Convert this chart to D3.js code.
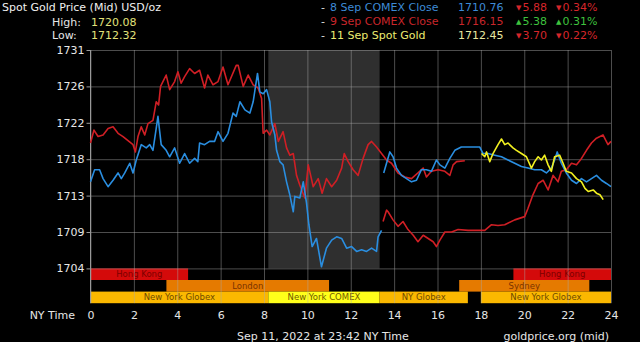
<!DOCTYPE html>
<html>
<head>
<meta charset="utf-8">
<script src="https://cdn.jsdelivr.net/npm/d3@7"></script>
<style>
  html, body { margin: 0; padding: 0; background: #000; }
  svg { display: block; font-family: "DejaVu Sans", Verdana, sans-serif; }
</style>
</head>
<body>
<div id="chart"></div>
<script>
// tick labels
const xTicks = [0, 2, 4, 6, 8, 10, 12, 14, 16, 18, 20, 22, 24]
const yTicks = [1704, 1708.5, 1713, 1717.5, 1722, 1726.5, 1731]
const yLabels = ['1704', '1709', '1713', '1718', '1722', '1726', '1731']

// 8 Sep COMEX close (blue), [hour, price]
const sep8a = [[0,1714.7],[0.19,1716.2],[0.42,1716.2],[0.58,1715.1],[0.81,1714.1],[1.04,1714.9],[1.27,1715.8],[1.42,1715.1],[1.58,1715.8],[1.81,1717.0],[1.96,1715.8],[2.11,1717.4],[2.34,1719.3],[2.57,1718.9],[2.73,1719.3],[2.88,1718.6],[3.03,1721.3],[3.11,1722.8],[3.26,1719.3],[3.49,1718.6],[3.65,1717.8],[3.88,1718.9],[4.11,1717.0],[4.34,1718.2],[4.57,1717.0],[4.8,1717.6],[4.95,1717.2],[5.03,1719.5],[5.26,1719.3],[5.49,1719.7],[5.72,1719.7],[5.88,1720.9],[6.11,1719.7],[6.34,1720.7],[6.57,1723.2],[6.72,1722.8],[6.89,1724.6],[7.12,1723.6],[7.35,1723.2],[7.5,1724.6],[7.7,1728.1],[7.81,1725.8],[7.96,1725.6],[8.12,1726.1],[8.27,1724.6],[8.35,1722.1],[8.5,1720.5],[8.58,1718.6],[8.73,1717.2],[8.88,1716.8],[9.04,1714.7],[9.19,1713.1],[9.35,1711.0],[9.42,1712.9],[9.65,1712.7],[9.81,1714.7],[9.96,1712.1],[10.07,1709.4],[10.22,1706.7],[10.42,1707.7],[10.65,1704.2],[10.88,1706.5],[11.12,1707.5],[11.35,1707.9],[11.58,1707.7],[11.81,1706.5],[12.04,1706.7],[12.27,1706.1],[12.5,1706.3],[12.73,1706.1],[12.96,1706.5],[13.19,1706.1],[13.26,1707.9],[13.42,1708.7]]
const sep8b = [[13.52,1715.8],[13.8,1718.4],[13.95,1717.8],[14.11,1716.4],[14.34,1715.5],[14.57,1715.1],[14.8,1714.7],[15.03,1714.9],[15.26,1716.2],[15.49,1716.2],[15.72,1716.0],[15.95,1717.4],[16.11,1716.8],[16.34,1716.4],[16.57,1717.6],[16.8,1718.6],[17.1,1719.0],[17.57,1719.0],[17.95,1719.0],[18.1,1718.2],[18.33,1718.2],[18.64,1718.0],[18.95,1717.8],[19.25,1717.4],[19.56,1717.0],[19.87,1716.6],[20.17,1716.4],[20.48,1716.2],[20.79,1716.2],[21.02,1715.8],[21.25,1716.4],[21.4,1717.4],[21.52,1718.4],[21.71,1717.0],[21.94,1715.8],[22.18,1714.9],[22.41,1714.5],[22.64,1715.1],[22.87,1714.7],[23.1,1715.1],[23.33,1715.5],[23.56,1714.9],[23.79,1714.5],[24,1714.1]]

// 9 Sep COMEX close (red)
const sep9a = [[0,1719.5],[0.16,1721.1],[0.35,1720.3],[0.58,1720.5],[0.81,1721.3],[1.04,1721.5],[1.27,1720.7],[1.5,1720.3],[1.73,1719.8],[1.96,1719.3],[2.07,1718.4],[2.19,1720.3],[2.34,1721.5],[2.5,1720.5],[2.65,1721.9],[2.88,1722.3],[3.03,1724.6],[3.14,1724.2],[3.23,1726.5],[3.49,1727.9],[3.65,1726.1],[3.88,1727.1],[4.03,1728.3],[4.18,1726.9],[4.34,1727.7],[4.57,1728.7],[4.8,1728.1],[5.03,1728.5],[5.26,1726.3],[5.41,1727.9],[5.65,1726.7],[5.88,1727.1],[6.11,1728.9],[6.34,1726.7],[6.72,1729.1],[6.81,1729.1],[7.04,1726.5],[7.27,1727.9],[7.5,1726.7],[7.73,1726.3],[7.89,1725.0],[7.96,1720.7],[8.12,1721.1],[8.27,1720.5],[8.5,1721.9],[8.66,1719.7],[8.88,1720.9],[9.04,1718.9],[9.19,1718.0],[9.35,1718.2],[9.5,1715.5],[9.65,1714.3],[9.88,1712.7],[10.04,1716.8],[10.27,1714.1],[10.5,1715.1],[10.68,1713.3],[10.88,1715.1],[11.12,1714.1],[11.35,1714.9],[11.58,1716.4],[11.7,1718.2],[11.88,1717.2],[12.11,1716.2],[12.34,1715.5],[12.57,1717.6],[12.8,1719.3],[12.96,1719.7],[13.19,1719.0],[13.42,1718.2],[13.65,1717.4],[13.88,1717.0],[14.18,1715.8],[14.49,1715.3],[14.8,1715.1],[15.1,1715.8],[15.34,1716.4],[15.49,1715.3],[15.72,1716.0],[16.03,1716.2],[16.34,1716.0],[16.57,1715.5],[16.72,1716.8],[16.88,1717.2],[17.26,1717.3]]
const sep9b = [[13.49,1709.8],[13.65,1711.2],[13.72,1711.0],[13.95,1710.0],[14.18,1709.2],[14.41,1709.8],[14.64,1708.8],[14.88,1708.1],[15.1,1707.3],[15.34,1708.1],[15.57,1707.7],[15.8,1707.3],[15.95,1706.7],[16.11,1707.5],[16.34,1708.5],[16.65,1708.5],[16.95,1708.8],[17.41,1708.7],[17.87,1708.7],[18.18,1708.7],[18.49,1709.4],[18.79,1709.3],[19.1,1709.4],[19.56,1710.0],[20.02,1710.4],[20.17,1711.4],[20.4,1713.1],[20.64,1714.5],[20.87,1714.9],[21.1,1713.7],[21.33,1715.5],[21.56,1714.7],[21.71,1716.0],[21.94,1716.2],[22.18,1717.0],[22.41,1716.8],[22.64,1717.6],[22.87,1718.6],[23.1,1719.5],[23.33,1720.1],[23.63,1720.5],[23.86,1719.3],[24,1719.7]]

// 11 Sep spot gold (yellow)
const sep11 = [[18.03,1718.2],[18.18,1717.8],[18.26,1718.4],[18.41,1717.2],[18.56,1718.2],[18.79,1719.3],[18.95,1720.0],[19.1,1719.3],[19.25,1719.5],[19.48,1718.9],[19.64,1718.6],[19.87,1718.2],[20.1,1717.8],[20.33,1716.4],[20.48,1717.2],[20.64,1717.8],[20.79,1717.4],[20.94,1718.0],[21.1,1716.8],[21.25,1716.0],[21.4,1717.8],[21.63,1718.0],[21.79,1717.0],[21.94,1716.0],[22.18,1715.8],[22.41,1715.1],[22.64,1714.7],[22.8,1713.9],[22.95,1713.5],[23.18,1713.7],[23.33,1713.3],[23.49,1713.1],[23.64,1712.5]]

// trading sessions: [name, start hour, end hour, row]
const sessions = [
  ['Hong Kong', 0, 4.5, 0],
  ['Hong Kong', 19.5, 24, 0],
  ['London', 3.5, 11, 1],
  ['Sydney', 17, 23, 1],
  ['New York Globex', 0, 8.2, 2],
  ['New York COMEX', 8.2, 13.33, 2],
  ['NY Globex', 13.33, 17.4, 2],
  ['New York Globex', 18, 24, 2]
]
const comexHours = [8.2, 13.33]

// legend rows
const legendNames = ['8 Sep COMEX Close', '9 Sep COMEX Close', '11 Sep Spot Gold']
const legendValues = ['1710.76', '1716.15', '1712.45']
const legendChange = [['\u25BC', '5.88', '0.34%'], ['\u25B2', '5.38', '0.31%'], ['\u25BC', '3.70', '0.22%']]
const highLow = [['High:', '1720.08'], ['Low:', '1712.32']]

const width = 640, height = 342
const margin = {top: 50, right: 29, bottom: 39, left: 90.5}
const rowH = 11.6

const svg = d3.select('#chart').append('svg')
  .attr('width', width)
  .attr('height', height)
svg.append('rect').attr('width', width).attr('height', height).attr('fill', '#000')

const xScale = d3.scaleLinear().domain([0, 24]).range([margin.left, width - margin.right])
const yScale = d3.scaleLinear().domain([1731, 1704]).range([margin.top, 268.4])
const barTop = yScale(1704)
const plotBottom = barTop + 3 * rowH

// COMEX shaded band
svg.append('rect')
  .attr('x', xScale(comexHours[0]))
  .attr('y', margin.top)
  .attr('width', xScale(comexHours[1]) - xScale(comexHours[0]))
  .attr('height', barTop - margin.top)
  .attr('fill', '#2f2f2f')

// session bars
const sessionFill = {
  'Hong Kong': '#d40a0a', 'London': '#e57a00', 'Sydney': '#e57a00',
  'New York Globex': '#fbb800', 'NY Globex': '#fbb800', 'New York COMEX': '#ffff1a'
}
const sessionText = {
  'Hong Kong': '#7c0000', 'London': '#7a3300', 'Sydney': '#7a3300',
  'New York Globex': '#6e4a00', 'NY Globex': '#6e4a00', 'New York COMEX': '#6e5a00'
}
const sess = svg.append('g').attr('class', 'sessions')
sess.selectAll('rect').data(sessions).join('rect')
  .attr('x', d => xScale(d[1]))
  .attr('y', d => barTop + d[3] * rowH)
  .attr('width', d => xScale(d[2]) - xScale(d[1]))
  .attr('height', rowH)
  .attr('fill', d => sessionFill[d[0]])
sess.selectAll('text').data(sessions).join('text')
  .attr('x', d => (xScale(d[1]) + xScale(d[2])) / 2)
  .attr('y', d => barTop + d[3] * rowH + rowH / 2 + 3)
  .attr('text-anchor', 'middle')
  .attr('font-size', 8.5)
  .attr('fill', d => sessionText[d[0]])
  .text(d => d[0])

// grid
const xGrid = d3.axisBottom(xScale).tickValues(xTicks).tickSize(-(plotBottom - margin.top)).tickFormat('')
const yGrid = d3.axisLeft(yScale).tickValues(yTicks).tickSize(-(xScale(24) - margin.left)).tickFormat('')
svg.append('g')
  .attr('transform', `translate(0, ${plotBottom})`)
  .call(xGrid)
  .call(g => g.select('.domain').remove())
  .call(g => g.selectAll('line').attr('stroke', 'rgba(170,170,170,0.45)'))
svg.append('g')
  .attr('transform', `translate(${margin.left}, 0)`)
  .call(yGrid)
  .call(g => g.select('.domain').remove())
  .call(g => g.selectAll('line').attr('stroke', 'rgba(170,170,170,0.45)'))

// axes labels
const yAxis = d3.axisLeft(yScale).tickValues(yTicks).tickSize(4).tickPadding(2)
  .tickFormat((d, i) => yLabels[i])
svg.append('g')
  .attr('transform', `translate(${margin.left}, 0)`)
  .call(yAxis)
  .call(g => g.select('.domain').attr('stroke', '#999').attr('d', `M0,${margin.top}V${plotBottom}`))
  .call(g => g.selectAll('line').attr('stroke', '#999'))
  .call(g => g.selectAll('text').attr('fill', '#e6e6e6').attr('font-size', 11)
    .attr('font-family', '"DejaVu Sans", sans-serif'))

const xAxis = d3.axisBottom(xScale).tickValues(xTicks).tickSize(0).tickPadding(8)
svg.append('g')
  .attr('transform', `translate(0, ${plotBottom})`)
  .call(xAxis)
  .call(g => g.select('.domain').remove())
  .call(g => g.selectAll('text').attr('fill', '#e6e6e6').attr('font-size', 11)
    .attr('font-family', '"DejaVu Sans", sans-serif'))

svg.append('text')
  .attr('x', 75).attr('y', 319)
  .attr('text-anchor', 'end')
  .attr('font-size', 11).attr('fill', '#e6e6e6')
  .text('NY Time')

// price lines
const line = d3.line().x(d => xScale(d[0])).y(d => yScale(d[1]))
const lines = [
  [sep9b, '#d01f25'], [sep9a, '#d01f25'],
  [sep8b, '#2a8ee0'], [sep8a, '#2a8ee0'],
  [sep11, '#f2f020']
]
svg.append('g').selectAll('path').data(lines).join('path')
  .attr('d', d => line(d[0]))
  .attr('fill', 'none')
  .attr('stroke', d => d[1])
  .attr('stroke-width', 1.6)
  .attr('stroke-linejoin', 'round')

// header left
svg.append('text').attr('x', 2).attr('y', 11)
  .attr('font-size', 11).attr('fill', '#f0f0f0')
  .text('Spot Gold Price (Mid) USD/oz')
const hl = svg.append('g')
hl.selectAll('text.k').data(highLow).join('text').attr('class', 'k')
  .attr('x', 52).attr('y', (d, i) => 25.5 + i * 13.5)
  .attr('font-size', 11).attr('fill', '#e6e6e6')
  .text(d => d[0])
hl.selectAll('text.v').data(highLow).join('text').attr('class', 'v')
  .attr('x', 91).attr('y', (d, i) => 25.5 + i * 13.5)
  .attr('font-size', 11).attr('fill', '#e2e27a')
  .text(d => d[1])

// header right (legend)
const nameColors = ['#3d8ad6', '#c8262b', '#ecec70']
const valueColors = ['#3d8ad6', '#c8262b', '#e8e8a0']
const lg = svg.append('g')
legendNames.forEach((name, i) => {
  const y = 11 + i * 14.2
  const up = legendChange[i][0] === '\u25B2'
  const chg = up ? '#3ec23e' : '#d6262b'
  lg.append('text').attr('x', 321).attr('y', y).attr('font-size', 11).attr('fill', '#dddddd').text('-')
  lg.append('text').attr('x', 330).attr('y', y).attr('font-size', 11).attr('fill', nameColors[i]).text(name)
  lg.append('text').attr('x', 458).attr('y', y).attr('font-size', 11).attr('fill', valueColors[i]).text(legendValues[i])
  ;[[516, legendChange[i][1]], [556, legendChange[i][2]]].forEach(([x, v]) => {
    const t = lg.append('text').attr('x', x).attr('y', y).attr('font-size', 11).attr('fill', chg)
    t.append('tspan').attr('font-size', 7).attr('dy', -1).text(legendChange[i][0])
    t.append('tspan').attr('dy', 1).attr('dx', 1).text(v)
  })
})

// footer
svg.append('text').attr('x', 237).attr('y', 340)
  .attr('font-size', 11).attr('fill', '#e6e6e6')
  .text('Sep 11, 2022 at 23:42 NY Time')
svg.append('text').attr('x', 609).attr('y', 340)
  .attr('text-anchor', 'end')
  .attr('font-size', 11).attr('fill', '#e6e6e6')
  .text('goldprice.org (mid)')
</script>
</body>
</html>
